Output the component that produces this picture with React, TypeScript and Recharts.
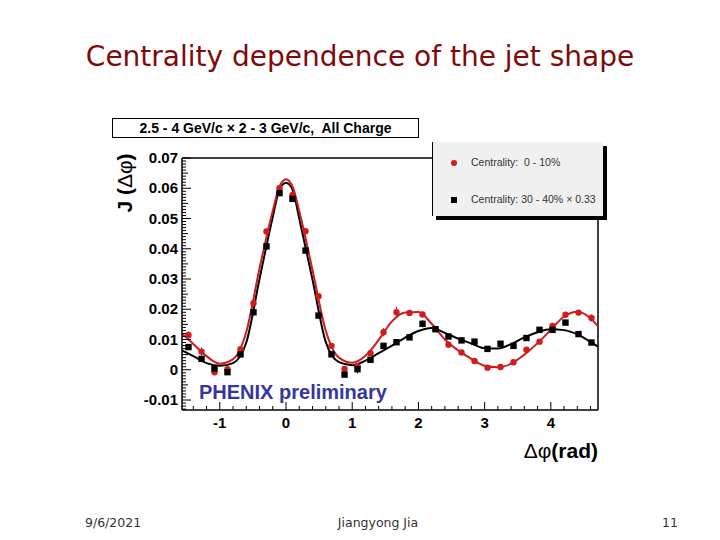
import React from 'react';
import {
  ComposedChart,
  Scatter,
  Line,
  XAxis,
  YAxis,
  ErrorBar,
  ReferenceLine,
} from 'recharts';

// bin centres (rad), 32 bins over [-pi/2, 3pi/2]
const binX = [
  -1.473, -1.276, -1.08, -0.884, -0.687, -0.491, -0.295, -0.098, 0.098, 0.295, 0.491, 0.687,
  0.884, 1.08, 1.276, 1.473, 1.669, 1.865, 2.062, 2.258, 2.454, 2.651, 2.847, 3.043, 3.24,
  3.436, 3.632, 3.829, 4.025, 4.221, 4.418, 4.614,
];

// Centrality 0 - 10%
const centralY = [
  0.0115, 0.006, -0.0008, 0.0002, 0.0068, 0.022, 0.0457, 0.06, 0.0578, 0.0458, 0.0243, 0.0079,
  0.0003, 0.0012, 0.0055, 0.0124, 0.019, 0.0188, 0.0183, 0.0135, 0.0083, 0.0057, 0.0029, 0.0007,
  0.0009, 0.0025, 0.0066, 0.0093, 0.0145, 0.0182, 0.0189, 0.0171,
];
const centralErr = [
  0.0012, 0.0014, 0.0009, 0.0008, 0.0008, 0.0009, 0.001, 0.001, 0.001, 0.001, 0.0009, 0.0008,
  0.0008, 0.0009, 0.0009, 0.0014, 0.0018, 0.001, 0.001, 0.0009, 0.0008, 0.0008, 0.0008, 0.0008,
  0.0008, 0.0008, 0.0008, 0.0008, 0.0009, 0.0009, 0.0009, 0.0012,
];

// Centrality 30 - 40% x 0.33
const periphY = [
  0.0075, 0.0036, 0.0004, -0.0008, 0.0051, 0.019, 0.0408, 0.0584, 0.0565, 0.0394, 0.0179, 0.0051,
  -0.0016, 0.0002, 0.0033, 0.0079, 0.0091, 0.0107, 0.0152, 0.0134, 0.011, 0.0097, 0.0093, 0.0069,
  0.0086, 0.0079, 0.0105, 0.0132, 0.0132, 0.0156, 0.0118, 0.009,
];
const periphErr = [
  0.0008, 0.0008, 0.0008, 0.0008, 0.0008, 0.0008, 0.0009, 0.0009, 0.0009, 0.0009, 0.0008, 0.0008,
  0.0008, 0.0014, 0.0008, 0.0008, 0.0008, 0.0008, 0.0012, 0.0008, 0.0008, 0.0008, 0.0008, 0.0008,
  0.0008, 0.0008, 0.0008, 0.0008, 0.0008, 0.0008, 0.0008, 0.0008,
];

// fit curves
const fitX = [
  -1.571, -1.4, -1.2, -1.0, -0.8, -0.6, -0.4, -0.2, -0.1, 0, 0.1, 0.2, 0.4, 0.6, 0.8, 1.0, 1.2,
  1.4, 1.6, 1.8, 2.0, 2.2, 2.4, 2.6, 2.8, 3.0, 3.2, 3.4, 3.6, 3.8, 4.0, 4.2, 4.4, 4.6, 4.712,
];
const centralFit = [
  0.012, 0.0085, 0.0045, 0.002, 0.0035, 0.0125, 0.0335, 0.0525, 0.0605, 0.063, 0.0605, 0.0525,
  0.033, 0.013, 0.004, 0.0023, 0.0046, 0.0099, 0.016, 0.0189, 0.0191, 0.0152, 0.01, 0.0064,
  0.0036, 0.0013, 0.0008, 0.002, 0.005, 0.0088, 0.0132, 0.0176, 0.0192, 0.017, 0.0143,
];
const periphFit = [
  0.0064, 0.0045, 0.0022, 0.0013, 0.0022, 0.009, 0.03, 0.0505, 0.0595, 0.0618, 0.0595, 0.05,
  0.0298, 0.0092, 0.0025, 0.0015, 0.003, 0.0055, 0.008, 0.0106, 0.0128, 0.0138, 0.0122, 0.0103,
  0.0087, 0.0071, 0.007, 0.0085, 0.0107, 0.0124, 0.0134, 0.0131, 0.0117, 0.0092, 0.0076,
];

const xMajor = [-1, 0, 1, 2, 3, 4];
const yMajor = [-0.01, 0, 0.01, 0.02, 0.03, 0.04, 0.05, 0.06, 0.07];

const RED = '#d01c1c';
const BLUE = '#3636a0';
const PLOT_LEFT = 182;
const PLOT_BOTTOM = 410;
const AXIS_FONT = '"Liberation Sans", Arial, sans-serif';

const centralPts = binX.map((x, i) => ({ x, y: centralY[i], err: centralErr[i] }));
const periphPts = binX.map((x, i) => ({ x, y: periphY[i], err: periphErr[i] }));
const centralLine = fitX.map((x, i) => ({ x, y: centralFit[i] }));
const periphLine = fitX.map((x, i) => ({ x, y: periphFit[i] }));

const xTicks: number[] = [];
for (let k = -7; k <= 23; k++) xTicks.push(Math.round(k * 20) / 100);
const yTicks: number[] = [];
for (let k = -13; k <= 70; k++) yTicks.push(Math.round(k * 10) / 10000);

function isMajor(v: number, list: number[]) {
  return list.some((m) => Math.abs(m - v) < 1e-9);
}

function XTick(props: any) {
  const { x, payload } = props;
  const v = payload.value as number;
  const major = isMajor(v, xMajor);
  return (
    <g>
      <line x1={x} x2={x} y1={PLOT_BOTTOM} y2={PLOT_BOTTOM - (major ? 8 : 4)} stroke="#000" />
      {major && (
        <text
          x={x}
          y={PLOT_BOTTOM + 18}
          textAnchor="middle"
          fontFamily={AXIS_FONT}
          fontWeight="bold"
          fontSize={15}
          fill="#000"
        >
          {v}
        </text>
      )}
    </g>
  );
}

function YTick(props: any) {
  const { y, payload } = props;
  const v = payload.value as number;
  const major = isMajor(v, yMajor);
  const half = Math.abs(v * 1000 - Math.round(v * 200) * 5) < 1e-6;
  const len = major ? 9 : half ? 6 : 4;
  return (
    <g>
      <line x1={PLOT_LEFT} x2={PLOT_LEFT + len} y1={y} y2={y} stroke="#000" />
      {major && (
        <text
          x={PLOT_LEFT - 4}
          y={y + 5}
          textAnchor="end"
          fontFamily={AXIS_FONT}
          fontWeight="bold"
          fontSize={15}
          fill="#000"
        >
          {v}
        </text>
      )}
    </g>
  );
}

function RedDot(props: any) {
  const { cx, cy } = props;
  return <circle cx={cx} cy={cy} r={3.2} fill={RED} />;
}

function BlackSquare(props: any) {
  const { cx, cy } = props;
  return <rect x={cx - 3.2} y={cy - 3.2} width={6.4} height={6.4} fill="#000" />;
}

export default function App() {
  return (
    <div
      style={{
        position: 'absolute',
        left: 0,
        top: 0,
        width: 720,
        height: 540,
        background: '#fff',
        overflow: 'hidden',
      }}
    >
      <div
        style={{
          position: 'absolute',
          left: 0,
          width: 720,
          top: 40,
          textAlign: 'center',
          fontFamily: '"DejaVu Sans", Verdana, sans-serif',
          fontSize: 28,
          color: '#7f0a0a',
        }}
      >
        Centrality dependence of the jet shape
      </div>

      <ComposedChart
        width={720}
        height={540}
        margin={{ top: 158, right: 122, bottom: 100, left: 122 }}
        style={{ position: 'absolute', left: 0, top: 0 }}
      >
        <XAxis
          type="number"
          dataKey="x"
          domain={[-Math.PI / 2, (3 * Math.PI) / 2]}
          allowDataOverflow
          ticks={xTicks}
          interval={0}
          tick={<XTick />}
          tickLine={false}
          axisLine={{ stroke: '#000', strokeWidth: 1.5 }}
          height={30}
        />
        <YAxis
          type="number"
          dataKey="y"
          domain={[-0.0133, 0.07]}
          allowDataOverflow
          ticks={yTicks}
          interval={0}
          tick={<YTick />}
          tickLine={false}
          axisLine={{ stroke: '#000', strokeWidth: 1.5 }}
          width={60}
        />
        <ReferenceLine y={0.07} stroke="#000" strokeWidth={1.5} />
        <ReferenceLine x={(3 * Math.PI) / 2} stroke="#000" strokeWidth={1.5} />

        <Line
          data={periphLine}
          dataKey="y"
          type="monotone"
          stroke="#000"
          strokeWidth={2}
          dot={false}
          isAnimationActive={false}
        />
        <Line
          data={centralLine}
          dataKey="y"
          type="monotone"
          stroke={RED}
          strokeWidth={2}
          dot={false}
          isAnimationActive={false}
        />
        <Scatter data={centralPts} dataKey="y" fill={RED} shape={<RedDot />} isAnimationActive={false}>
          <ErrorBar dataKey="err" direction="y" width={0} stroke={RED} strokeWidth={1} />
        </Scatter>
        <Scatter data={periphPts} dataKey="y" fill="#000" shape={<BlackSquare />} isAnimationActive={false}>
          <ErrorBar dataKey="err" direction="y" width={0} stroke="#000" strokeWidth={1} />
        </Scatter>
      </ComposedChart>

      {/* selection label box */}
      <div
        style={{
          position: 'absolute',
          left: 112,
          top: 118,
          width: 305,
          height: 18,
          border: '1px solid #000',
          background: '#fff',
          fontFamily: AXIS_FONT,
          fontWeight: 'bold',
          fontSize: 14,
          lineHeight: '18px',
          textAlign: 'center',
          whiteSpace: 'pre',
        }}
      >
        {'2.5 - 4 GeV/c × 2 - 3 GeV/c,  All Charge'}
      </div>

      {/* legend */}
      <div
        style={{
          position: 'absolute',
          left: 432,
          top: 142,
          width: 170,
          height: 74,
          background: '#f0f0f0',
          borderLeft: '1px solid #000',
          boxShadow: '4px 4px 0 #000',
          fontFamily: AXIS_FONT,
          fontSize: 10.5,
          color: '#333',
        }}
      >
        <div style={{ position: 'absolute', left: 18, top: 18, width: 6, height: 6, borderRadius: 3, background: RED }} />
        <div style={{ position: 'absolute', left: 38, top: 14, whiteSpace: 'pre' }}>{'Centrality:  0 - 10%'}</div>
        <div style={{ position: 'absolute', left: 18, top: 55, width: 6, height: 6, background: '#000' }} />
        <div style={{ position: 'absolute', left: 38, top: 51, whiteSpace: 'pre' }}>{'Centrality: 30 - 40% × 0.33'}</div>
      </div>

      {/* y axis title */}
      <div
        style={{
          position: 'absolute',
          left: 125,
          top: 183,
          transform: 'translate(-50%, -50%) rotate(-90deg)',
          fontFamily: AXIS_FONT,
          fontWeight: 'bold',
          fontSize: 21,
          whiteSpace: 'pre',
        }}
      >
        J (<span style={{ fontWeight: 'normal' }}>Δφ</span>)
      </div>

      {/* x axis title */}
      <div
        style={{
          position: 'absolute',
          right: 122,
          top: 439,
          fontFamily: AXIS_FONT,
          fontWeight: 'bold',
          fontSize: 21,
          whiteSpace: 'pre',
        }}
      >
        <span style={{ fontWeight: 'normal' }}>Δφ</span>(rad)
      </div>

      <div
        style={{
          position: 'absolute',
          left: 199,
          top: 381,
          fontFamily: AXIS_FONT,
          fontWeight: 'bold',
          fontSize: 20,
          color: BLUE,
          whiteSpace: 'pre',
        }}
      >
        PHENIX preliminary
      </div>

      {/* footer */}
      <div style={{ position: 'absolute', left: 85, top: 515, fontFamily: '"DejaVu Sans", sans-serif', fontSize: 12.5, color: '#333' }}>
        9/6/2021
      </div>
      <div style={{ position: 'absolute', left: 278, width: 200, top: 515, textAlign: 'center', fontFamily: '"DejaVu Sans", sans-serif', fontSize: 12.5, color: '#333' }}>
        Jiangyong Jia
      </div>
      <div style={{ position: 'absolute', left: 578, width: 100, top: 515, textAlign: 'right', fontFamily: '"DejaVu Sans", sans-serif', fontSize: 12.5, color: '#333' }}>
        11
      </div>
    </div>
  );
}
